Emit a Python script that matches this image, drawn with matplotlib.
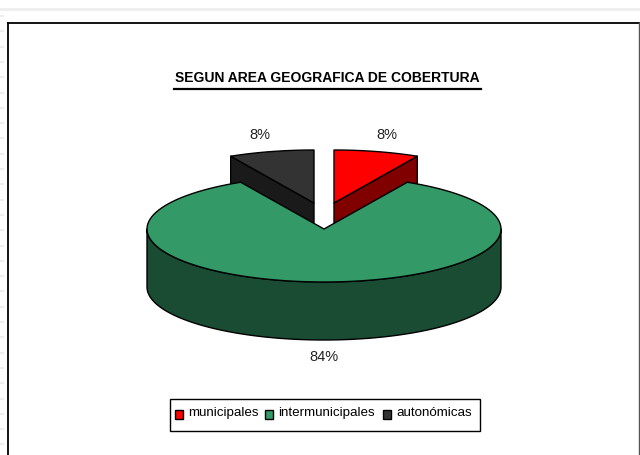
import numpy as np
import matplotlib
matplotlib.use('Agg')
import matplotlib.pyplot as plt
from matplotlib.patches import Polygon, Rectangle

plt.rcParams['font.family'] = ['Liberation Sans', 'DejaVu Sans']

# datos
categorias = ['municipales', 'intermunicipales', 'autonómicas']
valores = [7.8, 84.4, 7.8]
colores = ['#ff0000', '#339966', '#333333']
oscuros = ['#800000', '#1a4c33', '#1a1a1a']
titulo = 'SEGUN AREA GEOGRAFICA DE COBERTURA'

# geometria de la tarta, en pixeles
cx, cy = 324, 229
rx, ry = 177, 53
prof = 58
sep_x, sep_y = 10, 26

fig = plt.figure(figsize=(6.4, 4.55), dpi=100)
ax = fig.add_axes([0, 0, 1, 1])
ax.set_xlim(0, 640)
ax.set_ylim(455, 0)
ax.axis('off')


def punto(ang, x0, y0):
    # angulo en grados, desde arriba y en sentido horario
    a = np.radians(ang)
    return x0 + rx * np.sin(a), y0 - ry * np.cos(a)


def arco(a1, a2, x0, y0):
    angs = np.linspace(a1, a2, 120)
    return np.column_stack(punto(angs, x0, y0))


def poligono(pts, color, z):
    ax.add_patch(Polygon(pts, closed=True, facecolor=color, edgecolor='black', linewidth=1.0, zorder=z, joinstyle='round'))


# marco del grafico y rastros grises del borde
ax.plot([0, 640], [8.5, 8.5], color='#eeeeee', linewidth=2, zorder=0)
for y in np.arange(16, 455, 15.3):
    ax.plot([0, 3], [y, y], color='#eeeeee', linewidth=1.5, zorder=0)
ax.plot([8, 8], [23, 455], color='black', linewidth=1.3, zorder=1)
ax.plot([8, 639], [23, 23], color='black', linewidth=1.3, zorder=1)
ax.plot([639, 639], [23, 455], color='#555555', linewidth=1.0, zorder=1)

# angulos de cada porcion
total = sum(valores)
lims = np.cumsum([0] + valores) * 360 / total
a_rojo = lims[:2]
a_verde = lims[1:3]
a_negro = lims[2:4]

# porciones separadas, detras de la verde
x_r, y_r = cx + sep_x, cy - sep_y
x_n, y_n = cx - sep_x, cy - sep_y
esq_r = np.array(punto(a_rojo[1], x_r, y_r))
poligono([(x_r, y_r), esq_r, esq_r + [0, prof], (x_r, y_r + prof)], oscuros[0], 2)
poligono(np.vstack([[(x_r, y_r)], arco(a_rojo[0], a_rojo[1], x_r, y_r)]), colores[0], 3)
esq_n = np.array(punto(a_negro[0], x_n, y_n))
poligono([(x_n, y_n), esq_n, esq_n + [0, prof], (x_n, y_n + prof)], oscuros[2], 2)
poligono(np.vstack([[(x_n, y_n)], arco(a_negro[0], a_negro[1], x_n, y_n)]), colores[2], 3)

# porcion verde: lateral y cara superior
sup = arco(90, 270, cx, cy)
poligono(np.vstack([sup, (sup + [0, prof])[::-1]]), oscuros[1], 4)
poligono(np.vstack([[(cx, cy)], arco(a_verde[0], a_verde[1], cx, cy)]), colores[1], 5)

# etiquetas
ax.text(387, 135, f'{valores[0]:.0f}%', ha='center', va='center', fontsize=10.5, color='#222222')
ax.text(260, 135, f'{valores[2]:.0f}%', ha='center', va='center', fontsize=10.5, color='#222222')
ax.text(323.5, 357, f'{valores[1]:.0f}%', ha='center', va='center', fontsize=10.5, color='#222222')

# titulo subrayado
ax.text(327.5, 78, titulo, ha='center', va='center', fontsize=10, fontweight='bold', color='black')
ax.plot([174, 481], [88.5, 88.5], color='black', linewidth=1.6, zorder=6)

# leyenda a mano para respetar la posicion
ax.add_patch(Rectangle((170, 399), 310, 31.5, facecolor='white', edgecolor='black', linewidth=1, zorder=6))
xs_caja = [175, 265, 383]
xs_texto = [188, 278, 396]
for nombre, color, xc, xt in zip(categorias, colores, xs_caja, xs_texto):
    ax.add_patch(Rectangle((xc, 409.5), 8, 9, facecolor=color, edgecolor='black', linewidth=1, zorder=7))
    ax.text(xt, 413, nombre, ha='left', va='center', fontsize=9.6, color='black', zorder=7)

fig.savefig('out.png', dpi=100)
